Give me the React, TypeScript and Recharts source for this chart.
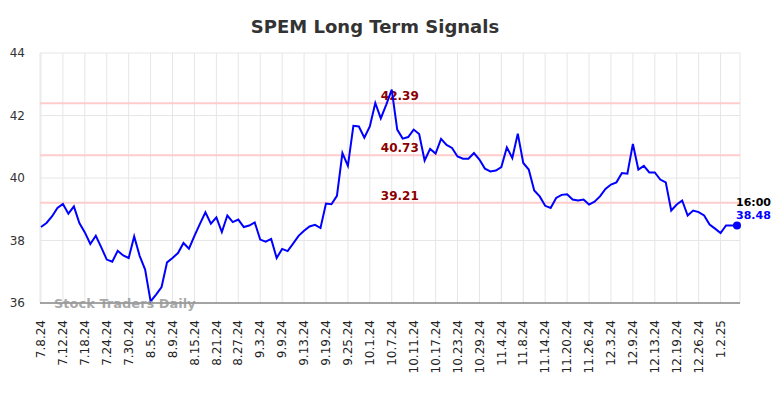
import { LineChart, Line, XAxis, YAxis, CartesianGrid, ReferenceLine } from "recharts";

const dates = [
  "7.8.24", "7.9.24", "7.10.24", "7.11.24", "7.12.24", "7.15.24", "7.16.24", "7.17.24", "7.18.24", "7.19.24",
  "7.22.24", "7.23.24", "7.24.24", "7.25.24", "7.26.24", "7.29.24", "7.30.24", "7.31.24", "8.1.24", "8.2.24",
  "8.5.24", "8.6.24", "8.7.24", "8.8.24", "8.9.24", "8.12.24", "8.13.24", "8.14.24", "8.15.24", "8.16.24",
  "8.19.24", "8.20.24", "8.21.24", "8.22.24", "8.23.24", "8.26.24", "8.27.24", "8.28.24", "8.29.24", "8.30.24",
  "9.3.24", "9.4.24", "9.5.24", "9.6.24", "9.9.24", "9.10.24", "9.11.24", "9.12.24", "9.13.24", "9.16.24",
  "9.17.24", "9.18.24", "9.19.24", "9.20.24", "9.23.24", "9.24.24", "9.25.24", "9.26.24", "9.27.24", "9.30.24",
  "10.1.24", "10.2.24", "10.3.24", "10.4.24", "10.7.24", "10.8.24", "10.9.24", "10.10.24", "10.11.24", "10.14.24",
  "10.15.24", "10.16.24", "10.17.24", "10.18.24", "10.21.24", "10.22.24", "10.23.24", "10.24.24", "10.25.24", "10.28.24",
  "10.29.24", "10.30.24", "10.31.24", "11.1.24", "11.4.24", "11.5.24", "11.6.24", "11.7.24", "11.8.24", "11.11.24",
  "11.12.24", "11.13.24", "11.14.24", "11.15.24", "11.18.24", "11.19.24", "11.20.24", "11.21.24", "11.22.24", "11.25.24",
  "11.26.24", "11.27.24", "11.29.24", "12.2.24", "12.3.24", "12.4.24", "12.5.24", "12.6.24", "12.9.24", "12.10.24",
  "12.11.24", "12.12.24", "12.13.24", "12.16.24", "12.17.24", "12.18.24", "12.19.24", "12.20.24", "12.23.24", "12.24.24",
  "12.26.24", "12.27.24", "12.30.24", "12.31.24", "1.2.25", "1.3.25", "1.6.25", "1.7.25",
];

const prices = [
  38.43, 38.56, 38.77, 39.04, 39.17, 38.86, 39.09, 38.56, 38.26, 37.89,
  38.15, 37.78, 37.39, 37.32, 37.67, 37.52, 37.44, 38.13, 37.51, 37.07,
  36.05, 36.27, 36.51, 37.3, 37.44, 37.6, 37.92, 37.74, 38.15, 38.53,
  38.9, 38.54, 38.74, 38.27, 38.8, 38.59, 38.67, 38.43, 38.48, 38.58,
  38.03, 37.96, 38.05, 37.44, 37.73, 37.66, 37.9, 38.15, 38.31, 38.45,
  38.5, 38.4, 39.18, 39.16, 39.43, 40.8, 40.39, 41.67, 41.65, 41.29,
  41.65, 42.4, 41.91, 42.35, 42.83, 41.55, 41.26, 41.31, 41.55, 41.41,
  40.56, 40.93, 40.78, 41.25, 41.06, 40.96, 40.69, 40.62, 40.62, 40.8,
  40.59, 40.3, 40.21, 40.24, 40.35, 40.98, 40.64, 41.42, 40.48, 40.27,
  39.6, 39.41, 39.11, 39.04, 39.36, 39.46, 39.48, 39.31, 39.28, 39.31,
  39.15, 39.24, 39.41, 39.65, 39.79, 39.86, 40.16, 40.14, 41.09, 40.27,
  40.39, 40.18, 40.18, 39.95, 39.86, 38.96, 39.15, 39.28, 38.8, 38.96,
  38.91, 38.8, 38.51, 38.38, 38.24, 38.48, 38.48, 38.48,
];

const tickLabels = [
  "7.8.24", "7.12.24", "7.18.24", "7.24.24", "7.30.24", "8.5.24", "8.9.24", "8.15.24",
  "8.21.24", "8.27.24", "9.3.24", "9.9.24", "9.13.24", "9.19.24", "9.25.24", "10.1.24",
  "10.7.24", "10.11.24", "10.17.24", "10.23.24", "10.29.24", "11.4.24", "11.8.24", "11.14.24",
  "11.20.24", "11.26.24", "12.3.24", "12.9.24", "12.13.24", "12.19.24", "12.26.24", "1.2.25",
];

const yTicks = [36, 38, 40, 42, 44];
const levels = [42.39, 40.73, 39.21];
const lastTime = "16:00";

const data = dates.map((d, i) => ({ date: d, price: prices[i] }));
const lastIdx = prices.length - 1;
const FONT = "'DejaVu Sans', sans-serif";

const XTick = ({ x, payload }: any) => (
  <text
    x={x}
    y={320}
    transform={`rotate(-90, ${x}, 320)`}
    textAnchor="end"
    dy="0.35em"
    fontSize={12}
    fill="#222"
    fontFamily={FONT}
  >
    {payload.value}
  </text>
);

const YTick = ({ y, payload }: any) => (
  <text x={25} y={y} dy="0.35em" textAnchor="end" fontSize={12} fill="#333" fontFamily={FONT}>
    {payload.value}
  </text>
);

const LastDot = (props: any) => {
  const { cx, cy, index } = props;
  if (index !== lastIdx) return <g key={index} />;
  return <circle key={index} cx={cx} cy={cy} r={4} fill="#0000ff" />;
};

const levelLabel = (v: number) => (props: any) => {
  const vb = props.viewBox;
  return (
    <text
      x={vb.x + vb.width * 0.514}
      y={vb.y - 3}
      textAnchor="middle"
      fontSize={12}
      fontWeight="bold"
      fill="#8b0000"
      fontFamily={FONT}
    >
      {v.toFixed(2)}
    </text>
  );
};

export default function App() {
  return (
    <div style={{ position: "absolute", left: 0, top: 0, width: 784, height: 398, fontFamily: FONT }}>
      <LineChart width={784} height={398} data={data} margin={{ top: 53, right: 44, bottom: 0, left: 0 }}>
        <CartesianGrid stroke="#e6e6e6" />
        <XAxis
          dataKey="date"
          ticks={tickLabels}
          interval={0}
          padding={{ left: 1, right: 3 }}
          height={95}
          tickLine={false}
          axisLine={{ stroke: "#555", strokeWidth: 1 }}
          tick={<XTick />}
        />
        <YAxis
          domain={[36, 44]}
          ticks={yTicks}
          width={40}
          axisLine={false}
          tickLine={false}
          tick={<YTick />}
        />
        {levels.map((v) => (
          <ReferenceLine key={v} y={v} stroke="#ffcccc" strokeWidth={2} label={levelLabel(v)} />
        ))}
        <Line
          type="linear"
          dataKey="price"
          stroke="#0000ff"
          strokeWidth={2}
          dot={<LastDot />}
          activeDot={false}
          isAnimationActive={false}
        />
      </LineChart>
      <svg width={784} height={398} style={{ position: "absolute", left: 0, top: 0, pointerEvents: "none" }}>
        <text x={375} y={33} textAnchor="middle" fontSize={18} fontWeight="bold" fill="#333" fontFamily={FONT}>
          SPEM Long Term Signals
        </text>
        <text x={54} y={308} fontSize={13} fontWeight="bold" fill="#999" fillOpacity={0.85} fontFamily={FONT}>
          Stock Traders Daily
        </text>
        <text x={736} y={206} fontSize={11} fontWeight="bold" fill="#000" fontFamily={FONT}>
          {lastTime}
        </text>
        <text x={736} y={219} fontSize={11} fontWeight="bold" fill="#0000ff" fontFamily={FONT}>
          {prices[lastIdx].toFixed(2)}
        </text>
      </svg>
    </div>
  );
}
